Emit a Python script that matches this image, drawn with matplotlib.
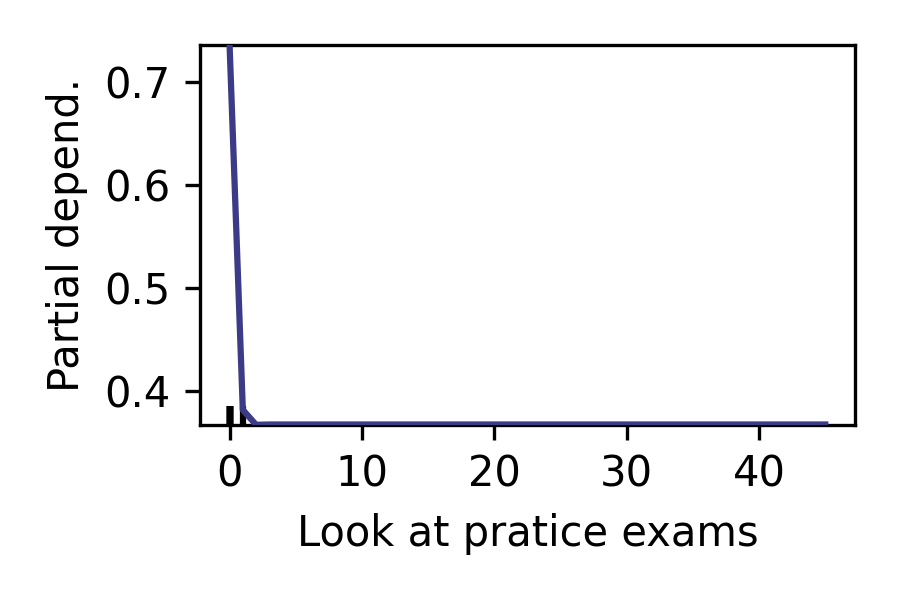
import matplotlib
matplotlib.use("Agg")
import matplotlib.pyplot as plt
from matplotlib import transforms

# grid of feature values and averaged partial dependence
grid = list(range(46))
pd_values = [0.736, 0.382, 0.3675] + [0.3678] * 43
deciles = [0, 0, 0, 0, 0, 0, 0, 0, 1]

fig = plt.figure(figsize=(3, 2), dpi=300)
ax = fig.add_axes([0.222, 0.292, 0.728, 0.633])

ax.plot(grid, pd_values, color="#3b3b88", lw=1.5, zorder=3)
ax.set_ylim(min(pd_values), max(pd_values))

trans = transforms.blended_transform_factory(ax.transData, ax.transAxes)
ax.vlines(deciles, 0, 0.05, transform=trans, color="k", zorder=2)

ax.set_xticks([0, 10, 20, 30, 40])
ax.set_yticks([0.4, 0.5, 0.6, 0.7])
ax.set_xlabel("Look at pratice exams")
ax.set_ylabel("Partial depend.")

fig.savefig("out.png", dpi=300)
